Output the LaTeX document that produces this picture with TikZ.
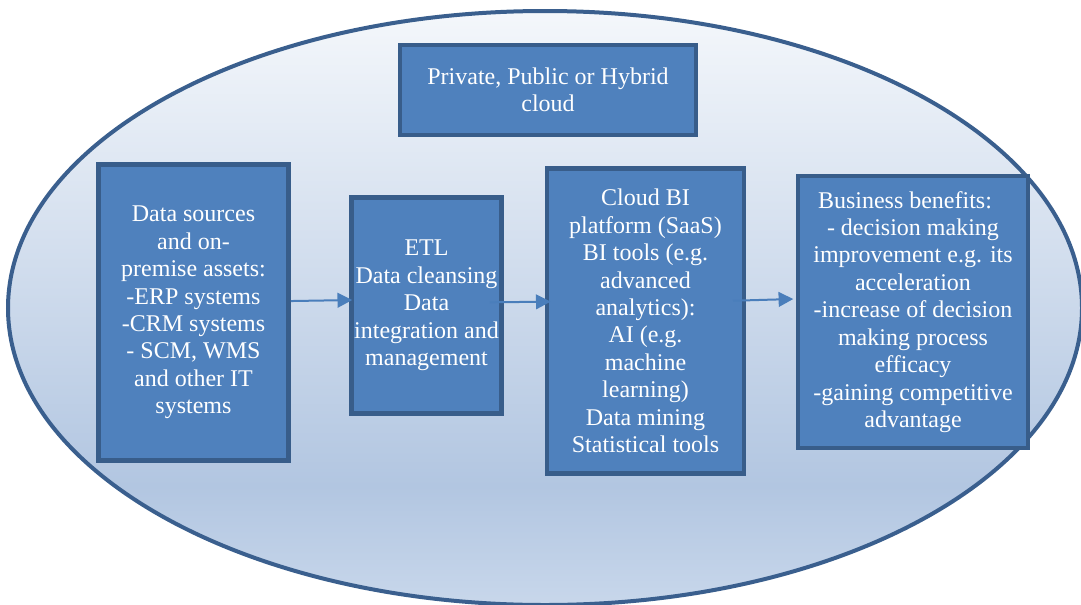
\documentclass[tikz,border=0pt]{standalone}
\usepackage{fontspec}
\setmainfont{Liberation Serif}
\usetikzlibrary{arrows.meta}

\definecolor{boxfill}{HTML}{4F81BD}
\definecolor{boxline}{HTML}{385D8A}
\definecolor{ovalline}{HTML}{3A5F8E}
\definecolor{flowline}{HTML}{4A7EBB}
\definecolor{ovaltop}{HTML}{F4F7FB}
\definecolor{ovaldeep}{HTML}{B2C6E1}
\definecolor{ovalbot}{HTML}{C8D7EB}
\pgfdeclareverticalshading{ovalshade}{100bp}{color(0bp)=(ovalbot); color(25bp)=(ovalbot); color(35bp)=(ovaldeep); color(75bp)=(ovaltop); color(100bp)=(ovaltop)}

\tikzset{every picture/.style={line width=0.75pt},
  stagebox/.style={draw=boxline, line width=3.5pt, fill=boxfill, text=white, align=center, inner sep=0pt, font=\fontsize{18}{20.6}\selectfont},
  flow/.style={draw=flowline, line width=1.5pt, -{Triangle[length=11pt,width=11pt]}}}

\begin{document}
\begin{tikzpicture}[x=0.75pt,y=0.75pt,yscale=-1,xscale=1]
        \useasboundingbox (0,0) rectangle (1081,604);

        %Shape: Ellipse [id:oval]
        \shade [shading=ovalshade, draw=ovalline, line width=3pt] (545,308) ellipse [x radius=537, y radius=297];

        % Text Node
        \node [stagebox, minimum width=222pt, minimum height=67.5pt] (cloud) at (548,90) {Private, Public or Hybrid\\cloud};
        % Text Node
        \node [stagebox, minimum width=142.5pt, minimum height=222pt] (src) at (193.5,312.5) {Data sources\\and on-\\premise assets:\\-ERP systems\\-CRM systems\\- SCM, WMS\\and other IT\\systems};
        % Text Node
        \node [stagebox, minimum width=112.5pt, minimum height=162pt] (etl) at (426.5,305.5) {ETL\\Data cleansing\\Data\\integration and\\management};
        % Text Node
        \node [stagebox, minimum width=147.75pt, minimum height=228.75pt] (bi) at (645.5,321) {Cloud BI\\platform (SaaS)\\BI tools (e.g.\\advanced\\analytics):\\AI (e.g.\\machine\\learning)\\Data mining\\Statistical tools};
        % Text Node
        \node [stagebox, minimum width=172.5pt, minimum height=204pt] (gain) at (913,312) {Business benefits:\hspace*{12pt}\\- decision making\\improvement e.g. its\\acceleration\\-increase of decision\\making process\\efficacy\\-gaining competitive\\advantage};

        %Straight Lines
        \draw [flow] ([yshift=-8.6pt]src.east) -- ([xshift=2.25pt,yshift=-4.1pt]etl.west);
        %Straight Lines
        \draw [flow] ([xshift=-10.4pt,yshift=-2.4pt]etl.east) -- ([xshift=4.5pt,yshift=-14.5pt]bi.west);
        %Straight Lines
        \draw [flow] ([xshift=-10pt,yshift=-15.2pt]bi.east) -- ([xshift=-1.8pt,yshift=-9.75pt]gain.west);

    \end{tikzpicture}
\end{document}
